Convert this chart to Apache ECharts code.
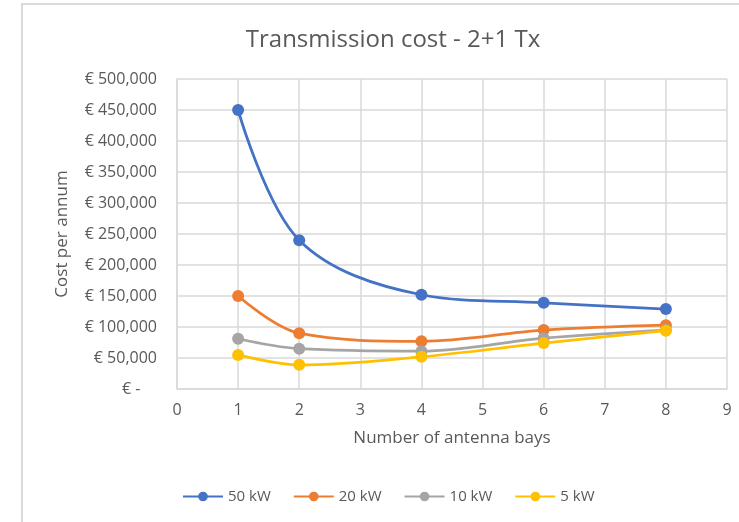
<!DOCTYPE html>
<html>
<head>
<meta charset="utf-8">
<script src="https://cdn.jsdelivr.net/npm/echarts@6/dist/echarts.min.js"></script>
<style>
  html, body { margin: 0; padding: 0; background: #fff; overflow: hidden; }
  #main { width: 739px; height: 522px; }
</style>
</head>
<body>
<div id="main"></div>
<script>
  var BAYS = [1, 2, 4, 6, 8];
  var KW50 = [450000, 240000, 152000, 139000, 129000];
  var KW20 = [150000, 90000, 77000, 95000, 103000];
  var KW10 = [81000, 65000, 61000, 82000, 95000];
  var KW5 = [55000, 39000, 52000, 74000, 94000];
  var NAMES = ['50 kW', '20 kW', '10 kW', '5 kW'];
  var COLORS = ['#4472c4', '#ed7d31', '#a5a5a5', '#ffc000'];

  function pairs(vals) {
    var out = [];
    for (var i = 0; i < BAYS.length; i++) {
      out.push([BAYS[i], vals[i]]);
    }
    return out;
  }

  function makeSeries(name, vals, color) {
    return {
      name: name,
      type: 'line',
      smooth: 0.35,
      symbol: 'circle',
      symbolSize: 12,
      data: pairs(vals),
      lineStyle: { color: color, width: 2.75 },
      itemStyle: { color: color }
    };
  }

  var txt = '#595959';
  var chart = echarts.init(document.getElementById('main'));
  chart.setOption({
    animation: false,
    textStyle: { fontFamily: 'Open Sans' },
    graphic: [{
      type: 'rect',
      shape: { x: 22, y: 4, width: 800, height: 600 },
      style: { fill: 'none', stroke: '#d9d9d9', lineWidth: 2 }
    }],
    title: {
      text: 'Transmission cost - 2+1 Tx',
      left: 388,
      top: 23,
      textAlign: 'center',
      textStyle: { color: txt, fontSize: 24, fontWeight: 'normal' }
    },
    legend: {
      data: NAMES,
      bottom: 13,
      left: 177,
      itemWidth: 40,
      itemHeight: 12,
      itemGap: 22,
      textStyle: { color: txt, fontSize: 15 }
    },
    grid: { left: 177, right: 12, top: 79, bottom: 133 },
    xAxis: {
      type: 'value',
      min: 0,
      max: 9,
      interval: 1,
      name: 'Number of antenna bays',
      nameLocation: 'middle',
      nameGap: 41,
      nameTextStyle: { color: txt, fontSize: 17 },
      axisLine: { lineStyle: { color: '#d9d9d9', width: 1.5 } },
      axisTick: { show: false },
      axisLabel: { color: txt, fontSize: 16, margin: 13 },
      splitLine: { lineStyle: { color: '#d9d9d9', width: 1.5 } }
    },
    yAxis: {
      type: 'value',
      min: 0,
      max: 500000,
      interval: 50000,
      name: 'Cost per annum',
      nameLocation: 'middle',
      nameGap: 106,
      nameTextStyle: { color: txt, fontSize: 17 },
      axisLine: { show: true, lineStyle: { color: '#d9d9d9', width: 1.5 } },
      axisTick: { show: false },
      axisLabel: {
        color: txt,
        fontSize: 16,
        margin: 20,
        formatter: function (v) {
          if (v === 0) return '€ -    ';
          return '€ ' + v.toLocaleString('en-US');
        }
      },
      splitLine: { lineStyle: { color: '#d9d9d9', width: 1.5 } }
    },
    series: [
      makeSeries(NAMES[0], KW50, COLORS[0]),
      makeSeries(NAMES[1], KW20, COLORS[1]),
      makeSeries(NAMES[2], KW10, COLORS[2]),
      makeSeries(NAMES[3], KW5, COLORS[3])
    ]
  });
</script>
</body>
</html>
